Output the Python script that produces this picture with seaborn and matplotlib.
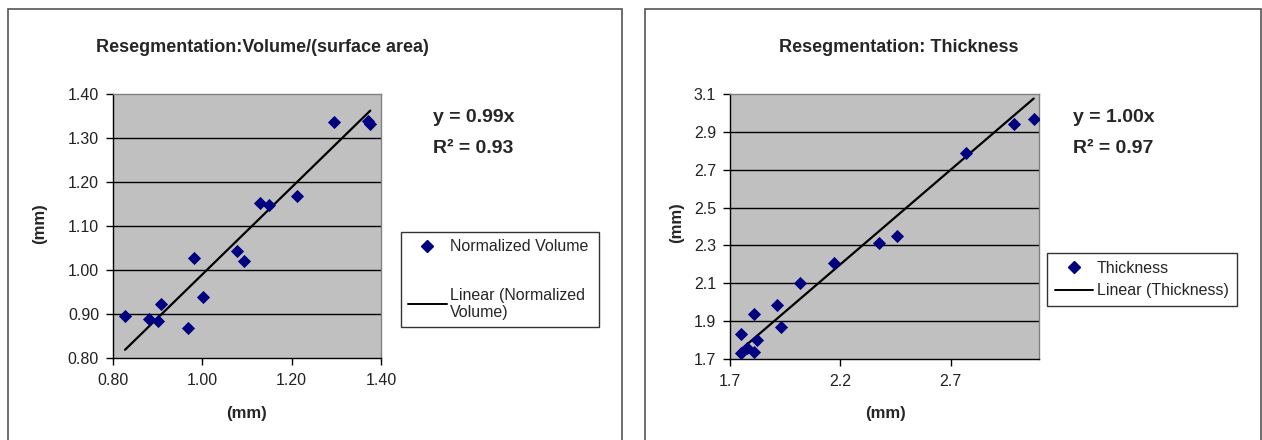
import numpy as np
import pandas as pd
import matplotlib
matplotlib.use("Agg")
import matplotlib.pyplot as plt
from matplotlib.patches import Rectangle
from matplotlib.lines import Line2D
import seaborn as sns

# values
vol_manual = [0.827, 0.881, 0.901, 0.907, 0.969, 0.981, 1.001, 1.077, 1.093,
              1.129, 1.150, 1.213, 1.294, 1.372, 1.376]
vol_reseg = [0.896, 0.889, 0.885, 0.922, 0.869, 1.027, 0.939, 1.044, 1.021,
             1.152, 1.147, 1.168, 1.336, 1.339, 1.332]
vol_slope = 0.99
vol_r2 = 0.93

thk_manual = [1.749, 1.749, 1.776, 1.809, 1.809, 1.824, 1.912, 1.930, 2.015,
              2.170, 2.376, 2.458, 2.771, 2.985, 3.076]
thk_reseg = [1.832, 1.730, 1.757, 1.936, 1.739, 1.800, 1.985, 1.871, 2.103,
             2.205, 2.315, 2.351, 2.790, 2.941, 2.969]
thk_slope = 1.00
thk_r2 = 0.97

vol_ticks = [0.80, 0.90, 1.00, 1.10, 1.20, 1.30, 1.40]
vol_xticks = [0.80, 1.00, 1.20, 1.40]
thk_ticks = [1.7, 1.9, 2.1, 2.3, 2.5, 2.7, 2.9, 3.1]
thk_xticks = [1.7, 2.2, 2.7]

sns.set_theme(style="white")
plt.rcParams['font.family'] = ['Liberation Sans', 'DejaVu Sans']

W, H = 1262, 440
fig = plt.figure(figsize=(W / 100, H / 100), dpi=100)

def fx(px):
    return px / W

def fy(py):
    return 1 - py / H

# the two chart frames (open at the bottom, like the cropped source)
for x0, x1 in [(8, 622), (645, 1261)]:
    fig.patches.append(Rectangle((fx(x0), -0.1), fx(x1 - x0), fy(9) + 0.1,
                                 transform=fig.transFigure, fill=False,
                                 edgecolor='#555555', linewidth=1.2))

def panel(rect, xs, ys, slope, xlim, ylim, yticks, xticks, fmt):
    ax = fig.add_axes(rect)
    ax.set_facecolor('#C0C0C0')
    df = pd.DataFrame({'x': xs, 'y': ys})
    fit = pd.DataFrame({'x': [min(xs), max(xs)]})
    fit['y'] = slope * fit['x']
    sns.lineplot(data=fit, x='x', y='y', ax=ax, color='black', linewidth=1.6)
    sns.scatterplot(data=df, x='x', y='y', ax=ax, marker='D', s=45,
                    color='#000080', edgecolor='#000080', linewidth=0, zorder=3)
    ax.set_xlim(xlim)
    ax.set_ylim(ylim)
    ax.set_yticks(yticks)
    ax.set_xticks(xticks)
    ax.set_yticklabels([fmt % v for v in yticks])
    ax.set_xticklabels([fmt % v for v in xticks])
    for t in yticks[1:-1]:
        ax.axhline(t, color='black', linewidth=1.0, zorder=1)
    ax.set_xlabel('')
    ax.set_ylabel('')
    ax.tick_params(axis='both', direction='out', length=5, width=1,
                   color='black', labelsize=11.5, labelcolor='#222222',
                   left=True, bottom=True)
    ax.tick_params(axis='x', pad=6)
    ax.tick_params(axis='y', pad=5)
    for s in ['left', 'bottom']:
        ax.spines[s].set_color('black')
        ax.spines[s].set_linewidth(1.0)
    for s in ['top', 'right']:
        ax.spines[s].set_color('#808080')
        ax.spines[s].set_linewidth(1.0)
    return ax

ax1 = panel([fx(113), fy(358), fx(381 - 113), (358 - 94) / H],
            vol_manual, vol_reseg, vol_slope, (0.80, 1.40), (0.80, 1.40),
            vol_ticks, vol_xticks, '%.2f')
ax2 = panel([fx(730), fy(359), fx(1039 - 730), (359 - 94) / H],
            thk_manual, thk_reseg, thk_slope, (1.7, 3.1), (1.7, 3.1),
            thk_ticks, thk_xticks, '%.1f')

# titles
fig.text(fx(262), fy(47), 'Resegmentation:Volume/(surface area)', ha='center',
         va='center', fontsize=13, fontweight='bold')
fig.text(fx(899), fy(47), 'Resegmentation: Thickness', ha='center',
         va='center', fontsize=13, fontweight='bold')

# axis labels
for x, y, rot in [(40, 224, 90), (247, 413, 0), (677, 223, 90), (885, 413, 0)]:
    fig.text(fx(x), fy(y), '(mm)', ha='center', va='center', rotation=rot,
             fontsize=12, fontweight='bold')

# trendline equations
fig.text(fx(433), fy(117), 'y = %.2fx' % vol_slope, ha='left', va='center',
         fontsize=14, fontweight='bold')
fig.text(fx(433), fy(148), 'R² = %.2f' % vol_r2, ha='left',
         va='center', fontsize=14, fontweight='bold')
fig.text(fx(1073), fy(117), 'y = %.2fx' % thk_slope, ha='left', va='center',
         fontsize=14, fontweight='bold')
fig.text(fx(1073), fy(148), 'R² = %.2f' % thk_r2, ha='left',
         va='center', fontsize=14, fontweight='bold')

def legend(labels, box, spacing, pad):
    handles = [Line2D([], [], marker='D', color='#000080', linestyle='none',
                      markersize=6),
               Line2D([], [], color='black', linewidth=1.4)]
    x0, y0, x1, y1 = box
    lg = fig.legend(handles, labels, loc='upper left',
                    bbox_to_anchor=(fx(x0), fy(y1), fx(x1 - x0), (y1 - y0) / H),
                    bbox_transform=fig.transFigure, mode='expand',
                    frameon=True, fancybox=False, fontsize=11.5,
                    handlelength=2.4, handletextpad=0.2, borderpad=pad,
                    labelspacing=spacing, borderaxespad=0)
    lg.get_frame().set_edgecolor('black')
    lg.get_frame().set_linewidth(1.0)
    return lg

legend(['Normalized Volume', 'Linear (Normalized\nVolume)'], (401, 232, 599, 327), 2.1, 0.45)
legend(['Thickness', 'Linear (Thickness)'], (1047, 253, 1237, 307), 0.45, 0.5)

fig.savefig('out.png', dpi=100, facecolor='white')
